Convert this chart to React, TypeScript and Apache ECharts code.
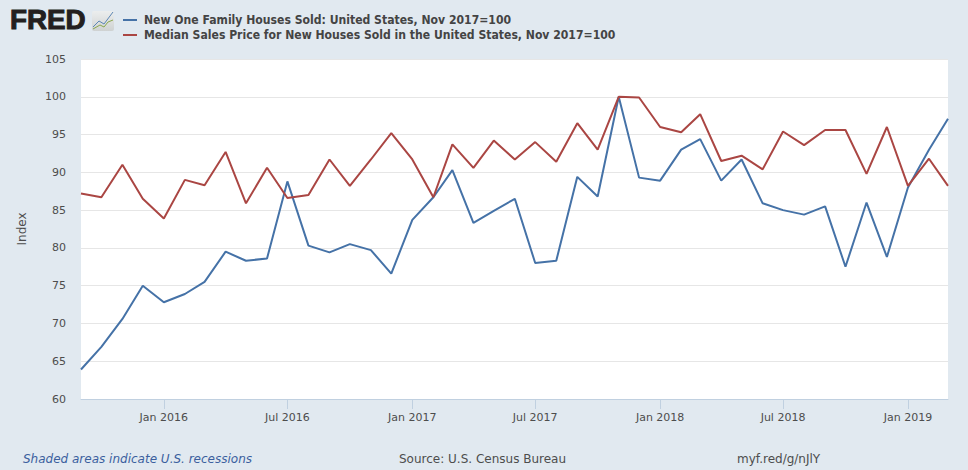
import React, { useEffect, useRef } from "react";
import * as echarts from "echarts";

const months: string[] = [
  "2015-09","2015-10","2015-11","2015-12",
  "2016-01","2016-02","2016-03","2016-04","2016-05","2016-06","2016-07","2016-08","2016-09","2016-10","2016-11","2016-12",
  "2017-01","2017-02","2017-03","2017-04","2017-05","2017-06","2017-07","2017-08","2017-09","2017-10","2017-11","2017-12",
  "2018-01","2018-02","2018-03","2018-04","2018-05","2018-06","2018-07","2018-08","2018-09","2018-10","2018-11","2018-12",
  "2019-01","2019-02","2019-03",
];
const housesSold: number[] = [
  63.9,66.9,70.6,75,72.8,73.9,75.5,79.5,78.3,78.6,88.8,80.3,79.4,80.5,79.7,76.6,
  83.7,86.7,90.3,83.3,84.9,86.5,78,78.3,89.4,86.8,100,89.3,
  88.9,93,94.4,88.9,91.7,85.9,85,84.4,85.5,77.5,86,78.8,88,93,97.1,
];
const salesPrice: number[] = [
  87.2,86.7,91,86.5,83.9,89,88.3,92.7,85.9,90.6,86.6,87,91.7,88.2,91.7,95.2,
  91.7,86.7,93.7,90.6,94.2,91.7,94,91.4,96.5,93,100,99.9,
  96,95.3,97.7,91.5,92.2,90.4,95.4,93.6,95.6,95.6,89.8,96,88.2,91.8,88.2,
];
const tickDates: string[] = ["2016-01","2016-07","2017-01","2017-07","2018-01","2018-07","2019-01"];
const tickLabels: string[] = ["Jan 2016","Jul 2016","Jan 2017","Jul 2017","Jan 2018","Jul 2018","Jan 2019"];
const seriesNames: string[] = [
  "New One Family Houses Sold: United States, Nov 2017=100",
  "Median Sales Price for New Houses Sold in the United States, Nov 2017=100",
];
const iconBlue: number[][] = [[93,27],[99,21],[104,24],[110,16],[113,12]];
const iconGreen: number[][] = [[93,29],[100,25],[104,27],[108,22],[113,20]];

const ts = (m: string) => Date.parse(m + "-01T00:00:00Z");
const FONT = "'DejaVu Sans', sans-serif";
const LEGEND_FONT = "'DejaVu Sans Condensed', 'DejaVu Sans', sans-serif";

export default function App() {
  const ref = useRef<HTMLDivElement>(null);
  useEffect(() => {
    if (!ref.current) return;
    const chart = echarts.init(ref.current, undefined, { renderer: "svg" });
    const labelOf = (v: number) => {
      const i = tickDates.findIndex((d) => ts(d) === v);
      return i >= 0 ? tickLabels[i] : "";
    };
    chart.setOption({
      animation: false,
      backgroundColor: "#e1e9f0",
      textStyle: { fontFamily: FONT },
      grid: { left: 81, right: 20, top: 59, bottom: 71, show: true, backgroundColor: "#ffffff", borderWidth: 0 },
      legend: {
        orient: "vertical",
        left: 118,
        top: 9,
        itemWidth: 14,
        itemHeight: 2,
        itemGap: 3,
        icon: "rect",
        textStyle: { fontFamily: LEGEND_FONT, fontWeight: "bold", fontSize: 12.1, color: "#444444", padding: [0, 0, 0, 2] },
        data: seriesNames,
      },
      xAxis: {
        type: "value",
        min: ts(months[0]),
        max: ts(months[months.length - 1]),
        axisLine: { show: true, lineStyle: { color: "#c0d0e0", width: 1 } },
        axisTick: { show: true, length: 10, lineStyle: { color: "#c0d0e0" }, customValues: tickDates.map(ts) },
        axisLabel: {
          color: "#4d4d4d",
          fontSize: 11,
          margin: 13,
          fontFamily: FONT,
          customValues: tickDates.map(ts),
          formatter: (v: number) => labelOf(v),
        },
        splitLine: { show: false },
      },
      yAxis: {
        type: "value",
        min: 60,
        max: 105,
        interval: 5,
        name: "Index",
        nameLocation: "middle",
        nameGap: 53,
        nameRotate: 90,
        nameTextStyle: { color: "#4d4d4d", fontSize: 12, fontFamily: FONT },
        axisLine: { show: false },
        axisTick: { show: false },
        axisLabel: { color: "#4d4d4d", fontSize: 11, margin: 15, fontFamily: FONT },
        splitLine: { show: true, lineStyle: { color: "#e6e6e6", width: 1 } },
      },
      series: [
        {
          name: seriesNames[0],
          type: "line",
          showSymbol: false,
          symbol: "none",
          lineStyle: { color: "#4572a7", width: 2 },
          itemStyle: { color: "#4572a7" },
          data: months.map((m, i) => [ts(m), housesSold[i]]),
        },
        {
          name: seriesNames[1],
          type: "line",
          showSymbol: false,
          symbol: "none",
          lineStyle: { color: "#aa4643", width: 2 },
          itemStyle: { color: "#aa4643" },
          data: months.map((m, i) => [ts(m), salesPrice[i]]),
        },
      ],
      graphic: [
        { type: "text", x: 10, y: 6, scaleX: 1.03, style: { text: "FRED", font: "bold 27px 'Liberation Sans', sans-serif", fill: "#231f20", stroke: "#231f20", lineWidth: 1 } },
        { type: "rect", shape: { x: 92, y: 11, width: 22, height: 20, r: 2 },
          style: { fill: new echarts.graphic.LinearGradient(0, 0, 0, 1, [{ offset: 0, color: "#eceeee" }, { offset: 1, color: "#cfd2d2" }]) } },
        { type: "polyline", shape: { points: iconBlue }, style: { stroke: "#5b86b5", fill: "none", lineWidth: 1 } },
        { type: "polyline", shape: { points: iconGreen }, style: { stroke: "#8aa84f", fill: "none", lineWidth: 1 } },
        { type: "text", x: 23, y: 453, style: { text: "Shaded areas indicate U.S. recessions", font: `italic 12px ${FONT}`, fill: "#3b5f9e" } },
        { type: "text", x: 399, y: 453, style: { text: "Source: U.S. Census Bureau", font: `12px ${FONT}`, fill: "#4d4d4d" } },
        { type: "text", x: 737, y: 453, style: { text: "myf.red/g/nJlY", font: `12px ${FONT}`, fill: "#4d4d4d" } },
      ],
    });
    return () => chart.dispose();
  }, []);
  return <div ref={ref} style={{ position: "fixed", left: 0, top: 0, width: 968, height: 470 }} />;
}
